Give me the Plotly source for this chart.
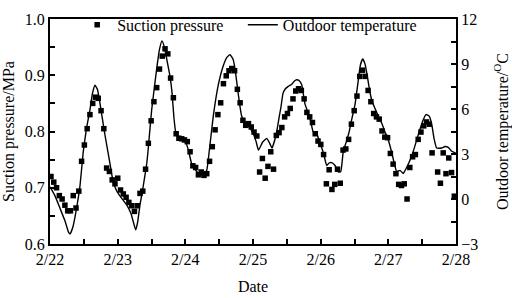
import numpy as np
import plotly.graph_objects as go

# ---- Data ----
date_labels = ["2/22", "2/23", "2/24", "2/25", "2/26", "2/27", "2/28"]

# Suction pressure (MPa), sampled roughly hourly from 2/22 00:00
pressure = [0.720, 0.710, 0.700, 0.686, 0.680, 0.669, 0.659, 0.659, 0.686, 0.664,
            0.694, 0.747, 0.776, 0.805, 0.830, 0.850, 0.861, 0.859, 0.837, 0.805,
            0.735, 0.729, 0.714, 0.707, 0.717, 0.696, 0.689, 0.683, 0.674, 0.668,
            0.658, 0.668, 0.690, 0.694, 0.733, 0.779, 0.819, 0.853, 0.878, 0.911,
            0.934, 0.947, 0.938, 0.895, 0.860, 0.796, 0.788, 0.787, 0.785, 0.782,
            0.764, 0.739, 0.736, 0.723, 0.728, 0.722, 0.725, 0.747, 0.773, 0.803,
            0.830, 0.851, 0.885, 0.899, 0.908, 0.912, 0.908, 0.875, 0.851, 0.820,
            0.811, 0.814, 0.808, 0.799, 0.792, 0.728, 0.752, 0.717, 0.738, 0.764,
            0.733, 0.793, 0.798, 0.807, 0.826, 0.832, 0.841, 0.858, 0.872, 0.876,
            0.873, 0.858, 0.834, 0.826, 0.816, 0.796, 0.783, 0.777, 0.759, 0.707,
            0.732, 0.697, 0.706, 0.733, 0.708, 0.767, 0.769, 0.786, 0.813, 0.837,
            0.863, 0.898, 0.909, 0.898, 0.873, 0.853, 0.832, 0.826, 0.822, 0.801,
            0.790, 0.789, 0.761, 0.742, 0.725, 0.706, 0.704, 0.707, 0.680, 0.736,
            0.755, 0.759, 0.786, 0.799, 0.810, 0.817, 0.813, 0.762, None, 0.728,
            0.708, 0.762, 0.725, 0.753, 0.727, 0.685]
sample_interval_h = 0.9866
first_sample_h = 0.35
pressure_days = [(first_sample_h + i * sample_interval_h) / 24.0 for i in range(len(pressure))]

# Outdoor temperature (deg C) at time in days from 2/22 00:00
temp_days = [0.000, 0.074, 0.148, 0.222, 0.273, 0.296, 0.335, 0.384, 0.443, 0.492,
             0.539, 0.591, 0.628, 0.665, 0.702, 0.739, 0.813, 0.887, 0.931, 0.983,
             1.049, 1.133, 1.197, 1.266, 1.293, 1.330, 1.374, 1.429, 1.448, 1.503,
             1.577, 1.618, 1.655, 1.692, 1.725, 1.773, 1.803, 1.832, 1.862, 1.921,
             1.995, 2.044, 2.094, 2.168, 2.217, 2.265, 2.316, 2.364, 2.413, 2.487,
             2.561, 2.616, 2.660, 2.704, 2.734, 2.783, 2.833, 2.907, 2.956, 3.004,
             3.044, 3.081, 3.143, 3.202, 3.244, 3.281, 3.340, 3.389, 3.414, 3.443,
             3.473, 3.517, 3.572, 3.613, 3.646, 3.680, 3.720, 3.768, 3.842, 3.891,
             3.941, 3.990, 4.039, 4.089, 4.123, 4.163, 4.212, 4.260, 4.296, 4.334,
             4.374, 4.419, 4.463, 4.507, 4.551, 4.588, 4.621, 4.655, 4.685, 4.721,
             4.754, 4.803, 4.852, 4.906, 4.951, 4.999, 5.050, 5.083, 5.123, 5.172,
             5.221, 5.261, 5.320, 5.369, 5.419, 5.457, 5.508, 5.556, 5.605, 5.641,
             5.675, 5.714, 5.788, 5.837, 5.886, 5.936, 6.000]
temperature = [0.81, 0.21, -0.62, -1.47, -2.21, -2.33, -1.92, -0.84, 0.88, 3.17,
               4.69, 5.96, 7.04, 7.58, 7.30, 6.36, 4.25, 2.34, 1.19, 0.56,
               0.11, -0.39, -0.97, -2.05, -1.60, -0.39, 0.75, 2.34, 3.17, 5.96,
               8.69, 9.97, 10.54, 10.09, 9.33, 8.19, 7.11, 5.39, 4.37, 4.12,
               3.86, 3.29, 2.34, 1.83, 1.67, 1.58, 1.91, 3.61, 5.52, 7.61,
               8.89, 9.46, 9.62, 9.33, 8.69, 6.98, 5.52, 4.99, 4.75, 4.35,
               3.86, 3.26, 3.80, 4.04, 3.74, 3.40, 4.25, 5.52, 6.15, 7.04,
               7.32, 7.49, 7.65, 7.87, 7.95, 7.90, 7.61, 6.34, 5.39, 4.46,
               4.37, 3.72, 3.10, 2.23, 2.40, 2.43, 2.23, 1.81, 1.81, 3.18,
               3.74, 4.44, 5.39, 6.28, 7.74, 8.95, 9.33, 9.01, 8.31, 7.30,
               6.60, 6.03, 5.52, 5.01, 4.46, 3.93, 3.10, 2.47, 1.83, 1.91,
               1.70, 2.02, 2.59, 3.18, 3.93, 4.50, 5.20, 5.63, 5.52, 4.99,
               4.04, 3.40, 3.40, 3.50, 3.44, 3.18, 3.05]

FONT = "Liberation Serif"

fig = go.Figure()
fig.add_trace(go.Scatter(
    x=pressure_days, y=pressure, mode="markers", name="Suction pressure",
    marker=dict(symbol="square", size=5.5, color="black"), yaxis="y", legend="legend"))
fig.add_trace(go.Scatter(
    x=temp_days, y=temperature, mode="lines", name="Outdoor temperature",
    line=dict(color="black", width=1.4, shape="spline", smoothing=0.4), yaxis="y2",
    legend="legend2"))

axis_common = dict(showgrid=False, zeroline=False, showline=True, linecolor="black",
                   linewidth=2, ticks="inside", ticklen=5, tickwidth=1.5, tickcolor="black",
                   tickfont=dict(family=FONT, size=16, color="black"))
legend_common = dict(orientation="h", yanchor="middle", y=0.974, xanchor="left",
                     bgcolor="rgba(0,0,0,0)", font=dict(family=FONT, size=16, color="black"))

fig.update_layout(
    width=512, height=298,
    margin=dict(l=50, r=56, t=8, b=54),
    paper_bgcolor="white", plot_bgcolor="white",
    font=dict(family=FONT, size=16, color="black"),
    showlegend=True,
    legend=dict(x=0.067, **legend_common),
    legend2=dict(x=0.475, **legend_common),
    xaxis=dict(range=[0, 6], tickmode="array", tickvals=list(range(7)), ticktext=date_labels,
               mirror=True, automargin=False,
               minor=dict(tickmode="array", tickvals=[0.5, 1.5, 2.5, 3.5, 4.5, 5.5],
                          ticks="inside", ticklen=5, tickwidth=1.5, tickcolor="black"),
               title=dict(text="Date", standoff=14, font=dict(family=FONT, size=16)),
               **axis_common),
    yaxis=dict(range=[0.6, 1.0], tick0=0.6, dtick=0.1, tickformat=".1f", automargin=False,
               minor=dict(tick0=0.6, dtick=0.05, ticks="inside", ticklen=5, tickwidth=1.5,
                          tickcolor="black"),
               title=dict(text="Suction pressure/MPa", standoff=6, font=dict(family=FONT, size=16)),
               **axis_common),
    yaxis2=dict(range=[-3, 12], tick0=-3, dtick=3, overlaying="y", side="right", automargin=False,
                minor=dict(tick0=-3, dtick=1.5, ticks="inside", ticklen=5, tickwidth=1.5,
                           tickcolor="black"),
                title=dict(text="Outdoor temperature/<sup>O</sup>C", standoff=25,
                           font=dict(family=FONT, size=16)),
                **axis_common),
)

fig.write_html("out.html", config={"displayModeBar": False},
               post_script="document.body.style.margin='0';")
